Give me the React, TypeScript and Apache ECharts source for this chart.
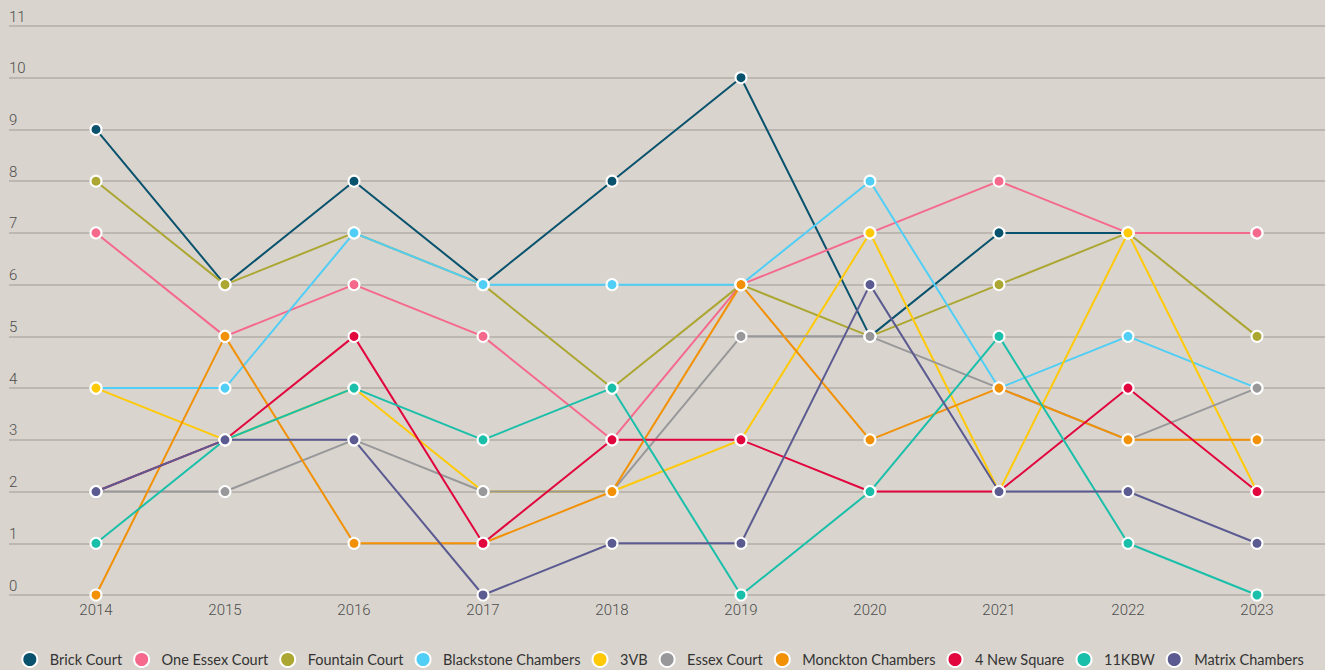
import React, { useEffect, useRef } from "react";
import * as echarts from "echarts";

const years = ["2014", "2015", "2016", "2017", "2018", "2019", "2020", "2021", "2022", "2023"];
const yTicks = [0, 11];

const names = [
  "Brick Court",
  "One Essex Court",
  "Fountain Court",
  "Blackstone Chambers",
  "3VB",
  "Essex Court",
  "Monckton Chambers",
  "4 New Square",
  "11KBW",
  "Matrix Chambers",
];

const brickCourt = [9, 6, 8, 6, 8, 10, 5, 7, 7, 7];
const oneEssexCourt = [7, 5, 6, 5, 3, 6, 7, 8, 7, 7];
const fountainCourt = [8, 6, 7, 6, 4, 6, 5, 6, 7, 5];
const blackstone = [4, 4, 7, 6, 6, 6, 8, 4, 5, 4];
const threeVB = [4, 3, 4, 2, 2, 3, 7, 2, 7, 2];
const essexCourt = [2, 2, 3, 2, 2, 5, 5, 4, 3, 4];
const monckton = [0, 5, 1, 1, 2, 6, 3, 4, 3, 3];
const newSquare = [2, 3, 5, 1, 3, 3, 2, 2, 4, 2];
const kbw = [1, 3, 4, 3, 4, 0, 2, 5, 1, 0];
const matrix = [2, 3, 3, 0, 1, 1, 6, 2, 2, 1];

const seriesData = [brickCourt, oneEssexCourt, fountainCourt, blackstone, threeVB, essexCourt, monckton, newSquare, kbw, matrix];

const colors = [
  "#08526e",
  "#f5698c",
  "#aca632",
  "#50cef6",
  "#ffc907",
  "#98989a",
  "#f29105",
  "#e2063e",
  "#1abfaa",
  "#5c5b91",
];

export default function App() {
  const ref = useRef<HTMLDivElement>(null);
  useEffect(() => {
    if (!ref.current) return;
    const chart = echarts.init(ref.current, undefined, { renderer: "svg" });
    const option: any = {
      animation: false,
      backgroundColor: "#d9d5ce",
      color: colors,
      grid: [
        { left: 9, right: 0, top: 26, bottom: 75, containLabel: false },
        { left: 96, right: 68, top: 26, bottom: 75, containLabel: false },
      ],
      xAxis: [
        { gridIndex: 0, type: "value", min: 0, max: 1, show: false },
        {
          gridIndex: 1,
          type: "category",
          data: years,
          boundaryGap: false,
          axisLine: { show: false },
          axisTick: { show: false },
          splitLine: { show: false },
          axisLabel: {
            color: "#4d4d4d",
            fontFamily: "Roboto",
            fontWeight: 300,
            fontSize: 15,
            margin: 7,
          },
        },
      ],
      yAxis: [
        {
          gridIndex: 0,
          type: "value",
          min: yTicks[0],
          max: yTicks[1],
          interval: 1,
          axisLine: { show: false },
          axisTick: { show: false },
          splitLine: { show: true, lineStyle: { color: "#b2ada6", width: 1.5 } },
          axisLabel: {
            inside: true,
            margin: 0,
            verticalAlign: "bottom",
            padding: [0, 0, 2, 0],
            color: "#4d4d4d",
            fontFamily: "Roboto",
            fontWeight: 300,
            fontSize: 15,
          },
        },
        {
          gridIndex: 1,
          type: "value",
          min: yTicks[0],
          max: yTicks[1],
          interval: 1,
          show: false,
          splitLine: { show: false },
        },
      ],
      legend: {
        bottom: 2,
        left: "center",
        padding: 0,
        icon: "circle",
        itemWidth: 30,
        itemHeight: 15,
        itemGap: 11,
        textStyle: { color: "#333", fontFamily: "Lato", fontSize: 14.5 },
        data: names,
      },
      series: names.map((n, i) => ({
        name: n,
        type: "line",
        xAxisIndex: 1,
        yAxisIndex: 1,
        data: seriesData[i],
        symbol: "circle",
        symbolSize: 11,
        showAllSymbol: true,
        lineStyle: { width: 2, color: colors[i] },
        itemStyle: { color: colors[i], borderColor: "#fff", borderWidth: 2 },
        emphasis: { disabled: true },
      })),
    };
    chart.setOption(option);
    return () => chart.dispose();
  }, []);
  return (
    <div
      ref={ref}
      style={{ position: "fixed", left: 0, top: 0, width: 1325, height: 670 }}
    />
  );
}
